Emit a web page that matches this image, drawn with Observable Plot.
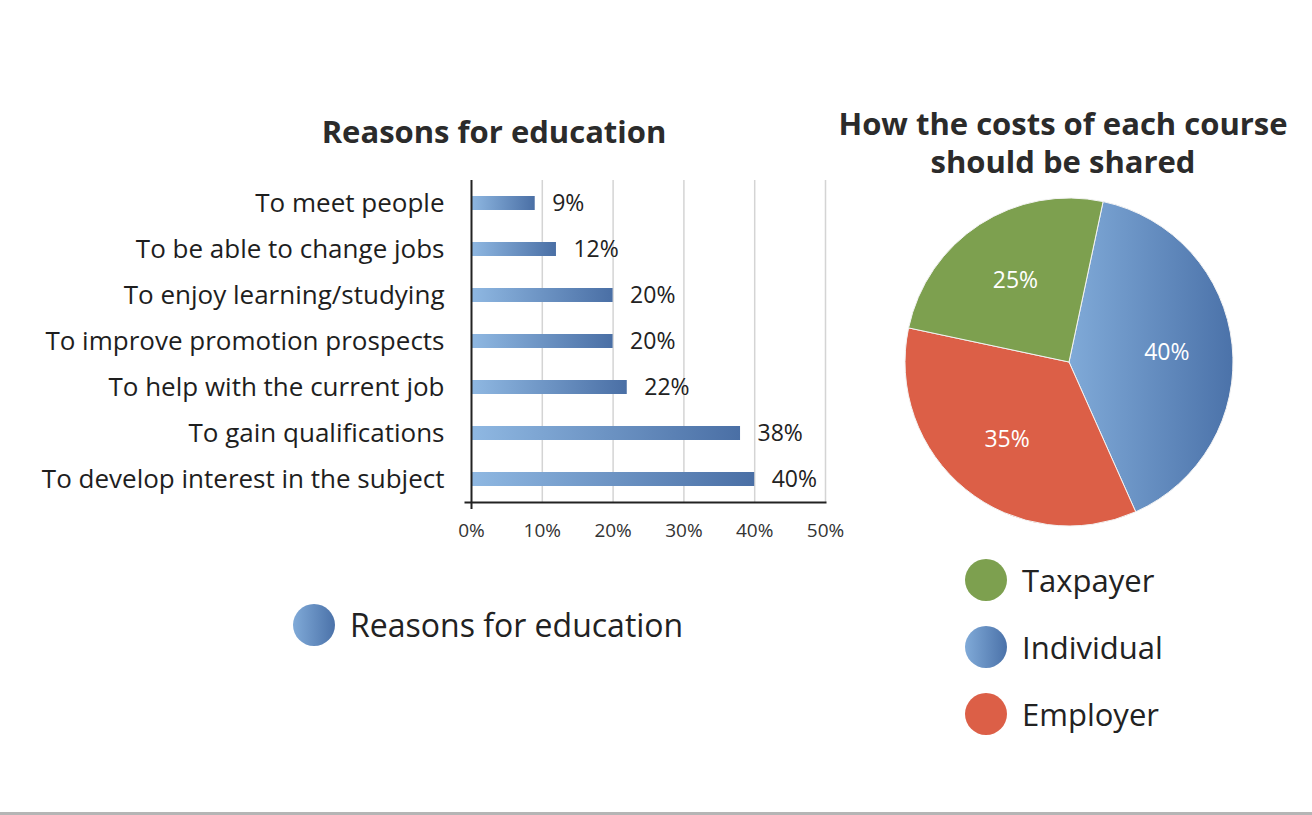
<!DOCTYPE html>
<html>
<head>
<meta charset="utf-8">
<script src="https://cdn.jsdelivr.net/npm/d3@7"></script>
<script src="https://cdn.jsdelivr.net/npm/@observablehq/plot@0.6"></script>
<style>
  html, body { margin: 0; padding: 0; background: #fff; }
  body { width: 1312px; height: 815px; position: relative; overflow: hidden; font-family: "Open Sans", sans-serif; color: #222; }
  .abs { position: absolute; }
  .title { font-weight: 700; font-size: 31px; color: #2b2b2b; text-align: center; line-height: 38px; white-space: nowrap; }
  .leg { display: flex; align-items: center; font-size: 31px; color: #222; }
  .dot { width: 42px; height: 42px; border-radius: 50%; margin-right: 15px; flex: none; }
  #bottomline { left: 0; top: 812px; width: 1312px; height: 3px; background: #b5b5b5; }
</style>
</head>
<body>
<div class="abs title" style="left:294px; top:112px; width:400px;">Reasons for education</div>
<div class="abs title" style="left:813px; top:104px; width:500px;">How the costs of each course<br>should be shared</div>
<div id="bar" class="abs" style="left:0; top:170px;"></div>
<div id="pie" class="abs" style="left:880px; top:190px;"></div>
<div id="legL" class="abs" style="left:293px; top:603px;"></div>
<div id="legR" class="abs" style="left:965px; top:559px;"></div>
<div id="bottomline" class="abs"></div>
<script>
// ---- Data ----
const reasons = [
  "To meet people",
  "To be able to change jobs",
  "To enjoy learning/studying",
  "To improve promotion prospects",
  "To help with the current job",
  "To gain qualifications",
  "To develop interest in the subject"
];
const reasonValues = [9, 12, 20, 20, 22, 38, 40];
const xTicks = [0, 10, 20, 30, 40, 50];

const payers = ["Individual", "Employer", "Taxpayer"];
const payerValues = [40, 35, 25];
const legendOrder = ["Taxpayer", "Individual", "Employer"];
const payerColors = {Taxpayer: "#7da04f", Individual: "url(#pieBlue)", Employer: "#dc5f47"};
const payerSwatch = {Taxpayer: "#7da04f", Individual: "linear-gradient(to right, #80aad8, #4b72a9)", Employer: "#dc5f47"};

const barRows = reasons.map((r, i) => ({reason: r, value: reasonValues[i]}));
const pieRows = payers.map((p, i) => ({payer: p, value: payerValues[i]}));

const FONT = "'Open Sans', sans-serif";

// ---- Bar chart ----
const defsBar = () => {
  const d = d3.create("svg:defs");
  const g = d.append("linearGradient").attr("id", "barGrad").attr("x1", "0").attr("x2", "1").attr("y1", "0").attr("y2", "0");
  g.append("stop").attr("offset", "0%").attr("stop-color", "#8fb8e2");
  g.append("stop").attr("offset", "100%").attr("stop-color", "#4a6fa5");
  return d.node();
};

const bar = Plot.plot({
  width: 870,
  height: 380,
  marginLeft: 471,
  marginRight: 45,
  marginTop: 10,
  marginBottom: 48,
  style: {fontFamily: FONT, background: "transparent", color: "#222", overflow: "visible"},
  x: {domain: [0, 50], axis: null},
  y: {domain: reasons, padding: 0, axis: null},
  marks: [
    defsBar,
    Plot.gridX([10, 20, 30, 40, 50], {stroke: "#d4d4d4", strokeOpacity: 1, strokeWidth: 1.5}),
    Plot.barX(barRows, {x: "value", y: "reason", fill: "url(#barGrad)", insetTop: 16, insetBottom: 16}),
    Plot.ruleX([0], {stroke: "#222", strokeWidth: 2, insetBottom: -7}),
    Plot.frame({anchor: "bottom", stroke: "#222", strokeWidth: 2, insetLeft: -6}),
    Plot.axisY({tickSize: 0, tickPadding: 27, fontSize: 26, fill: "#1e1e1e", label: null}),
    Plot.axisX({ticks: xTicks, tickFormat: d => d + "%", tickSize: 0, tickPadding: 21, fontSize: 19, fill: "#333", label: null}),
    Plot.text(barRows, {x: "value", y: "reason", text: d => d.value + "%", textAnchor: "start", dx: 17, fontSize: 23, fill: "#222"})
  ]
});
document.getElementById("bar").appendChild(bar);

// ---- Pie chart ----
const defsPie = () => {
  const d = d3.create("svg:defs");
  const g = d.append("linearGradient").attr("id", "pieBlue").attr("x1", "0").attr("x2", "1").attr("y1", "0").attr("y2", "0");
  g.append("stop").attr("offset", "0%").attr("stop-color", "#80aad8");
  g.append("stop").attr("offset", "100%").attr("stop-color", "#4b72a9");
  return d.node();
};

const startAngle = 12 * Math.PI / 180;
const pieGen = d3.pie().value(d => d.value).sort(null).startAngle(startAngle).endAngle(startAngle + 2 * Math.PI);
const arcs = pieGen(pieRows);

const pieMark = Plot.dot(pieRows, {
  x: () => 0, y: () => 0,
  render: (index, scales, values, dimensions, context) => {
    const cx = scales.x(0), cy = scales.y(0);
    const r = scales.x(1) - scales.x(0);
    const arc = d3.arc().innerRadius(0).outerRadius(r);
    const labelArc = d3.arc().innerRadius(r * 0.6).outerRadius(r * 0.6);
    const g = d3.create("svg:g").attr("transform", `translate(${cx},${cy})`);
    g.selectAll("path").data(arcs).join("path")
      .attr("d", arc)
      .attr("fill", d => payerColors[d.data.payer])
      .attr("stroke", "#f3f3f3").attr("stroke-width", 1);
    g.selectAll("text").data(arcs).join("text")
      .attr("transform", d => `translate(${labelArc.centroid(d)})`)
      .attr("text-anchor", "middle").attr("dy", "0.35em")
      .attr("fill", "#fff").attr("font-size", 23).attr("font-family", FONT)
      .text(d => d.data.value + "%");
    return g.node();
  }
});

const pie = Plot.plot({
  width: 380,
  height: 350,
  margin: 0,
  style: {background: "transparent"},
  x: {domain: [-1, 1], range: [25, 353], axis: null},
  y: {domain: [-1, 1], range: [336, 8], axis: null},
  marks: [defsPie, pieMark]
});
document.getElementById("pie").appendChild(pie);

// ---- Legends ----
const legL = document.getElementById("legL");
{
  const row = document.createElement("div");
  row.className = "leg";
  row.style.fontSize = "32px";
  const dot = document.createElement("div");
  dot.className = "dot";
  dot.style.background = "linear-gradient(to right, #80aad8, #4b72a9)";
  row.appendChild(dot);
  const t = document.createElement("span");
  t.textContent = "Reasons for education";
  row.appendChild(t);
  legL.appendChild(row);
}
const legR = document.getElementById("legR");
legendOrder.forEach((p, i) => {
  const row = document.createElement("div");
  row.className = "leg";
  row.style.height = "42px";
  row.style.marginBottom = i < legendOrder.length - 1 ? "25px" : "0";
  const dot = document.createElement("div");
  dot.className = "dot";
  dot.style.background = payerSwatch[p];
  row.appendChild(dot);
  const t = document.createElement("span");
  t.textContent = p;
  row.appendChild(t);
  legR.appendChild(row);
});
</script>
</body>
</html>
